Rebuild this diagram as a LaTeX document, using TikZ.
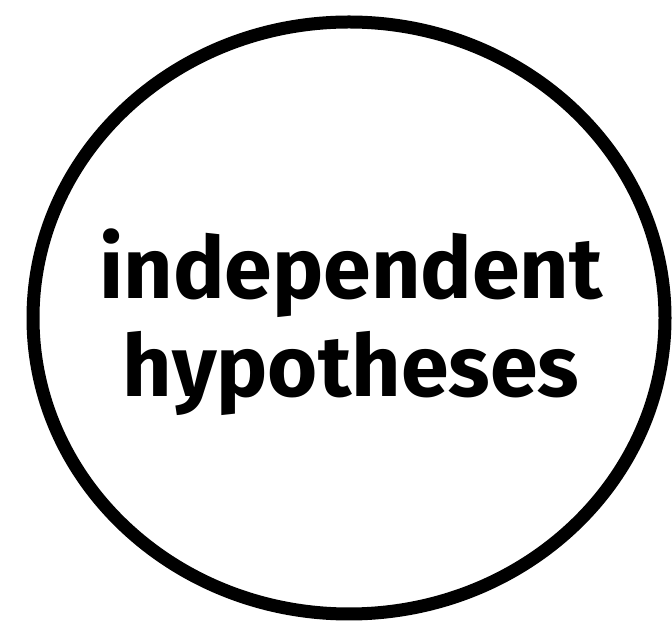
\documentclass[tikz,border=0pt]{standalone}
\usepackage{fontspec}
\setmainfont{Fira Sans}
\usepackage{tikz}
\usetikzlibrary{shapes.geometric,positioning}
\tikzset{
  hypring/.style={ellipse, draw=black, line width=13pt, minimum width=632pt, minimum height=592pt, inner sep=0pt},
  hyplabel/.style={font=\fontsize{86}{98}\selectfont\bfseries, align=center, inner sep=0pt},
}

\begin{document}
\begin{tikzpicture}[x=1pt, y=1pt]
      \useasboundingbox (0,0) rectangle (672,621);
      \node[hypring] (ring) at (349,303) {};
      \node[hyplabel, anchor=base] (hyp) at (351,224) {independent\\hypotheses};
    \end{tikzpicture}
\end{document}
